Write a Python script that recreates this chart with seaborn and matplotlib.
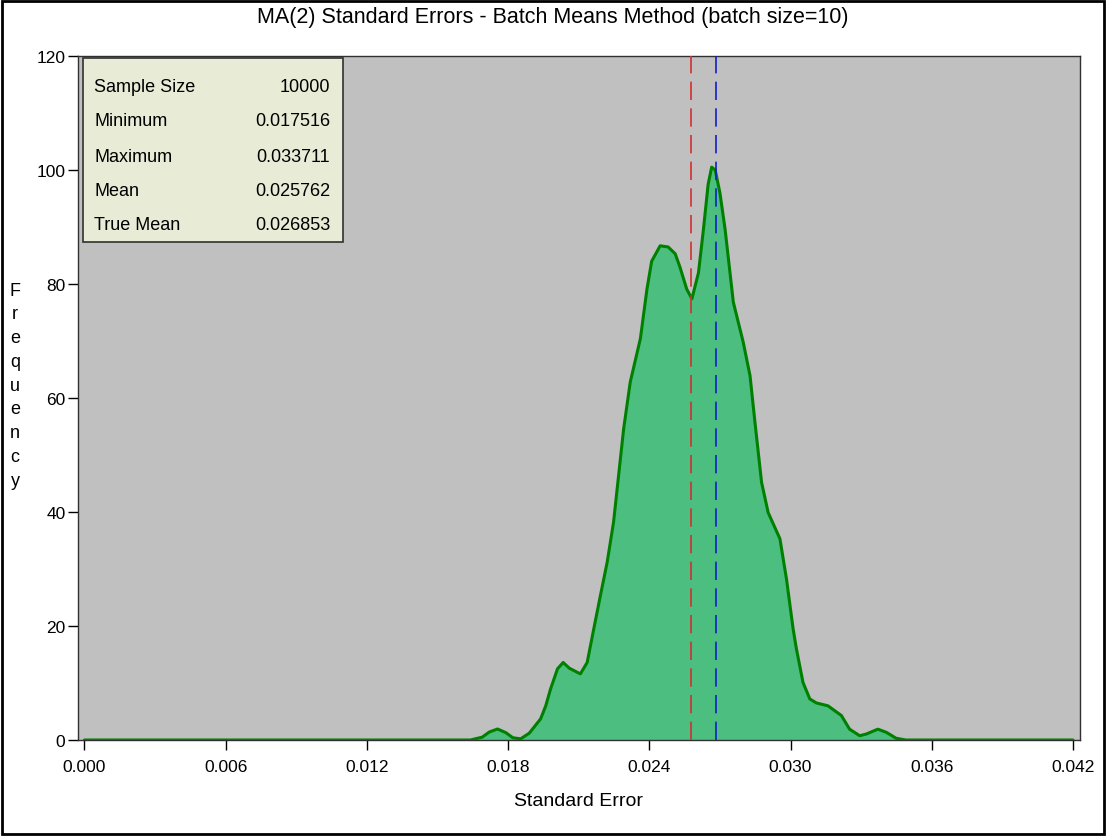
import matplotlib
matplotlib.use("Agg")
import matplotlib.pyplot as plt
import seaborn as sns
import pandas as pd
from matplotlib import font_manager
from matplotlib.patches import Rectangle

# ---------------- data ----------------
se_x = [0.0000, 0.0164, 0.0169, 0.0172, 0.01755, 0.0179, 0.0182, 0.01853, 0.0189,
        0.01938, 0.0196, 0.0198, 0.0201, 0.02034, 0.0206, 0.02107, 0.02136, 0.02164,
        0.02192, 0.02221, 0.02248, 0.02291, 0.02319, 0.02362, 0.02390, 0.02410,
        0.02446, 0.0248, 0.0251, 0.0253, 0.02559, 0.02581, 0.02609, 0.0263, 0.0265,
        0.02665, 0.0268, 0.0270, 0.02722, 0.02757, 0.02799, 0.02828, 0.02849,
        0.02877, 0.02905, 0.02955, 0.02983, 0.03011, 0.03025, 0.03053, 0.03082,
        0.03110, 0.03159, 0.03216, 0.03251, 0.03294, 0.03322, 0.03371, 0.03407,
        0.03449, 0.0349, 0.0420]
freq = [0, 0, 0.5, 1.4, 1.93, 1.3, 0.4, 0.2, 1.2,
        3.7, 6.0, 8.9, 12.5, 13.6, 12.6, 11.6, 13.6, 19.5,
        25.3, 31.2, 38.2, 54.6, 62.8, 70.4, 79.1, 84.0,
        86.7, 86.5, 85.3, 83.0, 79.1, 77.4, 82.0, 89.6, 97.5,
        100.5, 100.0, 96.0, 89.6, 76.8, 69.8, 63.9, 55.7,
        45.2, 39.9, 35.3, 28.2, 19.5, 16.0, 10.1, 7.2,
        6.5, 6.0, 4.3, 1.9, 0.75, 1.05, 1.9, 1.35,
        0.3, 0, 0]

x_ticks = [0.000, 0.006, 0.012, 0.018, 0.024, 0.030, 0.036, 0.042]
x_tick_labels = ["0.000", "0.006", "0.012", "0.018", "0.024", "0.030", "0.036", "0.042"]
y_ticks = [0, 20, 40, 60, 80, 100, 120]

stat_names = ["Sample Size", "Minimum", "Maximum", "Mean", "True Mean"]
stat_values = ["10000", "0.017516", "0.033711", "0.025762", "0.026853"]
mean_value = 0.025762
true_mean_value = 0.026853

title = "MA(2) Standard Errors - Batch Means Method (batch size=10)"
x_label = "Standard Error"
y_label = "Frequency"

# ---------------- fonts / colours ----------------
sns.set_theme(style="white")
avail = {f.name for f in font_manager.fontManager.ttflist}
reg = "Liberation Sans" if "Liberation Sans" in avail else "DejaVu Sans"
narrow = "Liberation Sans Narrow" if "Liberation Sans Narrow" in avail else reg
plt.rcParams["font.family"] = [reg, "DejaVu Sans"]
for key in ["text.color", "axes.labelcolor", "xtick.color", "ytick.color"]:
    plt.rcParams[key] = "black"

# ---------------- figure ----------------
fig = plt.figure(figsize=(11.06, 8.37), dpi=100)
ax = fig.add_axes([78 / 1106, 1 - 741 / 837, (1080 - 78) / 1106, (741 - 57) / 837])
ax.set_facecolor("#C0C0C0")

df = pd.DataFrame({"se": se_x, "freq": freq})
ax.fill_between(df["se"], df["freq"], 0, color="#4CBF80", linewidth=0, zorder=2)
sns.lineplot(data=df, x="se", y="freq", ax=ax, color="#008000", linewidth=2.2,
             zorder=3, sort=False)

ax.axvline(mean_value, color="#D03030", linewidth=1.2, dashes=(11, 5), zorder=4)
ax.axvline(true_mean_value, color="#1020C8", linewidth=1.2, dashes=(11, 5), zorder=4)

ax.set_xlim(-0.000275, 0.04230)
ax.set_ylim(0, 120)
ax.set_xticks(x_ticks)
ax.set_xticklabels(x_tick_labels, fontfamily=narrow, fontsize=12.5)
ax.set_yticks(y_ticks)
ax.set_yticklabels([str(v) for v in y_ticks], fontfamily=narrow, fontsize=12.5)
ax.tick_params(axis="both", direction="out", length=7, width=1, color="black",
               bottom=True, left=True)
ax.tick_params(axis="x", pad=7)
ax.tick_params(axis="y", pad=2)

for s in ax.spines.values():
    s.set_color("#303030")
    s.set_linewidth(1)

ax.set_xlabel(x_label, fontfamily=narrow, fontsize=14, labelpad=13)
ax.set_ylabel("")

fig.text(553 / 1106, 1 - 18 / 837, title, ha="center", va="center",
         fontfamily=narrow, fontsize=15.5)

# vertical stacked y label
y_top = 1 - 291 / 837
step = 23.8 / 837
for i, ch in enumerate(y_label):
    fig.text(15 / 1106, y_top - i * step, ch, ha="center", va="center", fontsize=13)

# stats box
box_l, box_t, box_r, box_b = 83, 59, 343, 243
fig.patches.append(Rectangle((box_l / 1106, 1 - box_b / 837),
                             (box_r - box_l) / 1106, (box_b - box_t) / 837,
                             transform=fig.transFigure, facecolor="#E8EBD6",
                             edgecolor="#303030", linewidth=1.2, zorder=5))
row_y = [88, 122, 157, 192, 226]
for name, val, ry in zip(stat_names, stat_values, row_y):
    fig.text(94 / 1106, 1 - ry / 837, name, ha="left", va="center", fontsize=13, zorder=6)
    fig.text(330 / 1106, 1 - ry / 837, val, ha="right", va="center", fontsize=13, zorder=6)

# figure border
fig.patches.append(Rectangle((2 / 1106, 2 / 837), 1102 / 1106, 833 / 837,
                             transform=fig.transFigure, facecolor="none",
                             edgecolor="black", linewidth=2, zorder=10))

fig.savefig("out.png", dpi=100, facecolor="white")
